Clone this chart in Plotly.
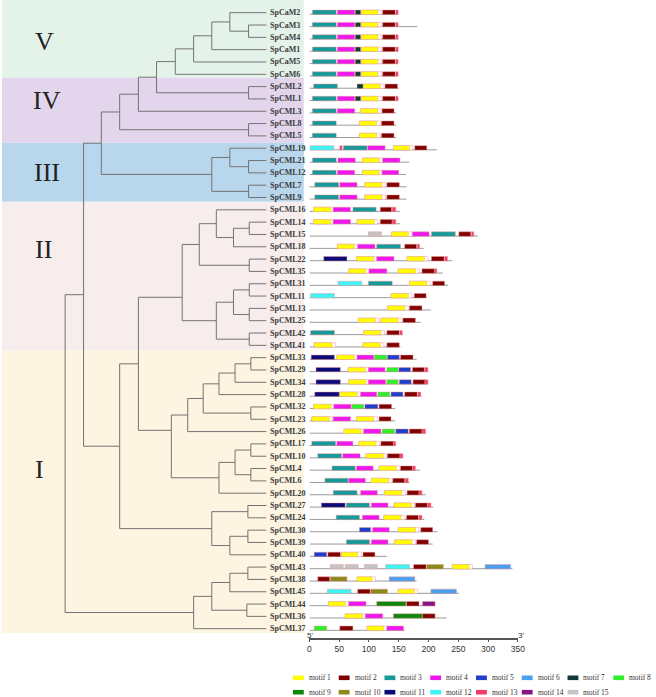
import plotly.graph_objects as go

# ---------------- data ----------------
GENES_V = ["SpCaM2", "SpCaM3", "SpCaM4", "SpCaM1", "SpCaM5", "SpCaM6"]
GENES_IV = ["SpCML2", "SpCML1", "SpCML3", "SpCML8", "SpCML5"]
GENES_III = ["SpCML19", "SpCML21", "SpCML12", "SpCML7", "SpCML9"]
GENES_II = ["SpCML16", "SpCML14", "SpCML15", "SpCML18", "SpCML22", "SpCML35",
            "SpCML31", "SpCML11", "SpCML13", "SpCML25", "SpCML42", "SpCML41"]
GENES_I = ["SpCML33", "SpCML29", "SpCML34", "SpCML28", "SpCML32", "SpCML23", "SpCML26",
           "SpCML17", "SpCML10", "SpCML4", "SpCML6", "SpCML20", "SpCML27", "SpCML24",
           "SpCML30", "SpCML39", "SpCML40", "SpCML43", "SpCML38", "SpCML45", "SpCML44",
           "SpCML36", "SpCML37"]

LEN_V = [149, 181, 149, 149, 149, 149]
LEN_IV = [150, 149, 146, 146, 146]
LEN_III = [214, 168, 162, 163, 163]
LEN_II = [152, 152, 283, 192, 240, 224, 233, 197, 204, 187, 157, 153]
LEN_I = [180, 200, 200, 188, 144, 144, 195, 145, 157, 186, 168, 195, 208, 193,
         215, 207, 130, 341, 180, 251, 211, 230, 160]

# motifs per gene: (motif number, start, end) in aa
CAM = [(3, 5, 45), (4, 47, 76), (7, 77, 86), (1, 87, 115), (2, 123, 144), (13, 145, 149)]
MOTIFS_V = [CAM, CAM, CAM, CAM, CAM, CAM]
MOTIFS_IV = [
    [(3, 7, 47), (7, 80, 90), (1, 90, 119), (2, 127, 148)],
    CAM,
    [(3, 5, 45), (4, 47, 76), (1, 86, 115), (2, 122, 142)],
    [(3, 5, 45), (1, 84, 113), (2, 121, 142)],
    [(3, 5, 45), (1, 84, 113), (2, 121, 142)],
]
MOTIFS_III = [
    [(12, 1, 41), (13, 51, 55), (3, 57, 97), (4, 98, 127), (1, 141, 168), (2, 177, 197)],
    [(3, 5, 45), (4, 48, 77), (1, 89, 117), (4, 123, 152)],
    [(3, 5, 45), (4, 47, 76), (1, 89, 117), (4, 122, 150)],
    [(3, 9, 49), (4, 51, 80), (1, 93, 122), (2, 130, 151)],
    [(3, 9, 49), (4, 51, 80), (1, 93, 122), (2, 130, 151)],
]
MOTIFS_II = [
    [(1, 7, 36), (4, 40, 69), (3, 73, 112), (2, 119, 138), (13, 139, 145)],
    [(1, 7, 36), (4, 40, 69), (1, 80, 109), (2, 119, 139), (13, 139, 145)],
    [(15, 99, 121), (1, 138, 166), (4, 173, 201), (3, 205, 245), (2, 251, 271), (13, 272, 276)],
    [(1, 47, 75), (4, 81, 110), (3, 113, 153), (2, 160, 180), (13, 181, 185)],
    [(11, 24, 63), (1, 79, 108), (4, 113, 142), (1, 164, 193), (2, 205, 226), (13, 227, 232)],
    [(1, 66, 95), (4, 100, 130), (1, 149, 178), (2, 189, 210), (13, 210, 214)],
    [(12, 48, 88), (3, 99, 139), (1, 168, 197), (2, 207, 227)],
    [(12, 2, 42), (1, 137, 166), (2, 176, 196)],
    [(1, 131, 160), (2, 168, 189)],
    [(1, 82, 111), (1, 120, 149), (2, 157, 178)],
    [(3, 2, 42), (1, 91, 120), (2, 130, 151), (13, 152, 156)],
    [(1, 8, 38), (1, 90, 119), (2, 130, 151)],
]
MOTIFS_I = [
    [(11, 3, 42), (1, 46, 75), (4, 80, 108), (8, 109, 130), (5, 131, 151), (2, 153, 174)],
    [(11, 11, 52), (1, 65, 94), (4, 99, 127), (8, 130, 149), (5, 150, 170), (2, 173, 193), (13, 194, 199)],
    [(11, 11, 52), (1, 66, 95), (4, 99, 128), (8, 130, 149), (5, 151, 171), (2, 174, 194), (13, 194, 199)],
    [(11, 9, 50), (1, 51, 80), (4, 86, 113), (8, 115, 135), (5, 137, 157), (2, 160, 181), (13, 182, 187)],
    [(1, 7, 36), (4, 41, 70), (8, 71, 91), (5, 93, 115), (2, 117, 138)],
    [(1, 4, 33), (4, 40, 69), (1, 79, 108), (2, 117, 137)],
    [(1, 58, 87), (4, 91, 120), (8, 122, 143), (5, 145, 166), (2, 168, 189), (13, 189, 195)],
    [(3, 4, 44), (4, 46, 73), (1, 83, 112), (2, 120, 141), (13, 141, 145)],
    [(3, 14, 54), (4, 56, 85), (1, 95, 124), (2, 131, 152), (13, 152, 157)],
    [(3, 38, 77), (4, 79, 107), (1, 117, 146), (2, 153, 173), (13, 173, 178)],
    [(3, 26, 65), (4, 66, 94), (1, 104, 133), (2, 140, 160), (13, 161, 166)],
    [(3, 40, 80), (4, 86, 114), (1, 126, 155), (2, 164, 184), (13, 184, 189)],
    [(11, 20, 60), (3, 62, 101), (4, 104, 132), (1, 142, 171), (2, 178, 198), (13, 198, 204)],
    [(3, 45, 84), (4, 89, 117), (1, 125, 154), (2, 163, 183), (13, 184, 189)],
    [(5, 84, 103), (4, 106, 134), (1, 149, 178), (2, 187, 207)],
    [(3, 62, 101), (4, 104, 132), (1, 143, 172), (2, 180, 200)],
    [(5, 8, 29), (2, 31, 52), (1, 54, 81), (2, 90, 110)],
    [(15, 35, 57), (15, 60, 82), (15, 92, 114), (12, 128, 168), (2, 175, 196), (10, 197, 225),
     (1, 240, 268), (6, 295, 338)],
    [(2, 14, 34), (10, 35, 63), (1, 80, 105), (6, 134, 177)],
    [(12, 30, 70), (2, 81, 102), (10, 103, 131), (1, 149, 176), (6, 204, 247)],
    [(1, 32, 60), (4, 66, 95), (9, 113, 162), (2, 163, 184), (14, 190, 211)],
    [(1, 60, 89), (4, 94, 123), (9, 141, 190), (2, 190, 211)],
    [(8, 8, 29), (2, 51, 73), (1, 97, 125), (4, 130, 158)],
]

# tree: (node, child1, child2, depth)
TREE_NODES = [
    ("nCaM34", "SpCaM3", "SpCaM4", 250), ("nA", "SpCaM2", "nCaM34", 231),
    ("nB", "nA", "SpCaM1", 212.7), ("nC", "nB", "SpCaM5", 194.3),
    ("nD", "nC", "SpCaM6", 175.7), ("nL21", "SpCML2", "SpCML1", 250),
    ("nE", "nD", "nL21", 156.7), ("nF", "nE", "SpCML3", 138.3),
    ("nL85", "SpCML8", "SpCML5", 250), ("nG", "nF", "nL85", 119.3),
    ("nL2112", "SpCML21", "SpCML12", 250), ("nH", "SpCML19", "nL2112", 231),
    ("nL79", "SpCML7", "SpCML9", 250), ("nIII", "nH", "nL79", 212.7),
    ("nI", "nG", "nIII", 100.7),
    ("nL1415", "SpCML14", "SpCML15", 250.7), ("nJ", "nL1415", "SpCML18", 234.7),
    ("nK", "SpCML16", "nJ", 217.3), ("nL2235", "SpCML22", "SpCML35", 250.7),
    ("nLl", "nK", "nL2235", 200), ("nL3111", "SpCML31", "SpCML11", 250.7),
    ("nL1325", "SpCML13", "SpCML25", 250.7), ("nM", "nL3111", "nL1325", 234.7),
    ("nL4241", "SpCML42", "SpCML41", 250.7), ("nN", "nM", "nL4241", 217.3),
    ("nII", "nLl", "nN", 182.7),
    ("nL3329", "SpCML33", "SpCML29", 252.3), ("nO", "nL3329", "SpCML34", 236.3),
    ("nP", "nO", "SpCML28", 220), ("nL3223", "SpCML32", "SpCML23", 252.3),
    ("nQ", "nP", "nL3223", 204), ("nR", "nQ", "SpCML26", 188.3),
    ("nL1710", "SpCML17", "SpCML10", 252.3), ("nL46", "SpCML4", "SpCML6", 252.3),
    ("nS", "nL1710", "nL46", 236.3), ("nT", "nS", "SpCML20", 220),
    ("nU", "nR", "nT", 171.7), ("nV", "nII", "nU", 138.3),
    ("nL2724", "SpCML27", "SpCML24", 249.3), ("nL3039", "SpCML30", "SpCML39", 249.3),
    ("nY", "nL3039", "SpCML40", 231), ("nX", "nL2724", "nY", 212.7),
    ("nW", "nV", "nX", 119.3), ("nTop", "nI", "nW", 82.7),
    ("nL4338", "SpCML43", "SpCML38", 249.3), ("nBB", "nL4338", "SpCML45", 231),
    ("nL4436", "SpCML44", "SpCML36", 248.3), ("nAA", "nBB", "nL4436", 212.7),
    ("nZ", "nAA", "SpCML37", 194.3), ("root", "nTop", "nZ", 64),
]
ATTACH_ROW = {"nII": 23.1, "nU": 33.9}
LEAF_DEPTH = 268

GROUP_NAMES = ["V", "IV", "III", "II", "I"]
GROUP_EDGES = [-1.2, 5.28, 10.55, 15.34, 27.44, 50.35]
GROUP_COLORS = ["#e4f3ea", "#e3d6ec", "#b9d7ec", "#f8eded", "#fdf5e1"]
GROUP_LABEL_X = [42.7, 46, 46, 41.7, 38.3]
GROUP_LABEL_ROW = [2.35, 7.09, 12.96, 19.2, 37.06]

MOTIF_COLORS = {1: "#ffff00", 2: "#800000", 3: "#16999a", 4: "#ee18ee", 5: "#1e3fc8",
                6: "#4aa0ee", 7: "#0f3a38", 8: "#2cf02c", 9: "#0d870d", 10: "#8a8a18",
                11: "#0b0b78", 12: "#3ef4f4", 13: "#f23c6a", 14: "#861686", 15: "#c4c4c4"}
SCALE_TICKS = [0, 50, 100, 150, 200, 250, 300, 350]

# ---------------- assemble ----------------
LEAVES = GENES_V + GENES_IV + GENES_III + GENES_II + GENES_I
LENGTHS = LEN_V + LEN_IV + LEN_III + LEN_II + LEN_I
MOTIFS = MOTIFS_V + MOTIFS_IV + MOTIFS_III + MOTIFS_II + MOTIFS_I
ROW = {g: i for i, g in enumerate(LEAVES)}

W, H = 656, 697
ROW0_PX, ROW_PX = 12.7, 12.32
Y_RANGE = [(H - ROW0_PX) / ROW_PX, -ROW0_PX / ROW_PX]

fig = go.Figure()

# tree
node_map = {n: (a, b, d) for n, a, b, d in TREE_NODES}


def depth(n):
    return node_map[n][2] if n in node_map else LEAF_DEPTH


def ypos(n):
    if n in ROW:
        return ROW[n]
    a, b, _ = node_map[n]
    return (attach(a) + attach(b)) / 2


def attach(n):
    return ATTACH_ROW.get(n, ypos(n))


tx, ty = [], []
for n, a, b, d in TREE_NODES:
    ya, yb = attach(a), attach(b)
    tx += [d, d, None]
    ty += [ya, yb, None]
    for c, yc in ((a, ya), (b, yb)):
        tx += [d, depth(c), None]
        ty += [yc, yc, None]
fig.add_trace(go.Scatter(x=tx, y=ty, mode="lines", line=dict(color="#737373", width=1),
                         hoverinfo="skip", showlegend=False, xaxis="x", yaxis="y"))

# gene lines
LINE_OFF = 0.13
gx, gy = [], []
for g, L in zip(LEAVES, LENGTHS):
    r = ROW[g] + LINE_OFF
    gx += [0, L, None]
    gy += [r, r, None]
fig.add_trace(go.Scatter(x=gx, y=gy, mode="lines", line=dict(color="#9c9c9c", width=1),
                         hoverinfo="skip", showlegend=False, xaxis="x2", yaxis="y"))

BOX_TOP, BOX_BOT = -0.21, 0.15
OUTLINE = "rgba(236,150,150,0.55)"


def rect(x0, x1, r):
    return ([x0, x1, x1, x0, x0, None],
            [r + BOX_TOP, r + BOX_TOP, r + BOX_BOT, r + BOX_BOT, r + BOX_TOP, None])


# white tails after motif 1
wx, wy = [], []
for g, mlist in zip(LEAVES, MOTIFS):
    srt = sorted(mlist, key=lambda t: t[1])
    for i, (m, s, e) in enumerate(srt):
        if m == 1:
            tail = e + 6
            if i + 1 < len(srt):
                tail = min(tail, srt[i + 1][1])
            if tail > e:
                xs, ys = rect(s, tail, ROW[g])
                wx += xs
                wy += ys
fig.add_trace(go.Scatter(x=wx, y=wy, mode="lines", fill="toself", fillcolor="white",
                         line=dict(color=OUTLINE, width=0.8), hoverinfo="skip",
                         showlegend=False, xaxis="x2", yaxis="y"))

for m in range(1, 16):
    mx, my = [], []
    for g, mlist in zip(LEAVES, MOTIFS):
        for (mm, s, e) in mlist:
            if mm == m:
                xs, ys = rect(s, e, ROW[g])
                mx += xs
                my += ys
    if mx:
        fig.add_trace(go.Scatter(x=mx, y=my, mode="lines", fill="toself",
                                 fillcolor=MOTIF_COLORS[m],
                                 line=dict(color=OUTLINE, width=0.8), hoverinfo="skip",
                                 showlegend=False, xaxis="x2", yaxis="y"))

# background bands
shapes = []
for i in range(5):
    shapes.append(dict(type="rect", xref="x", yref="y", x0=0, x1=306,
                       y0=GROUP_EDGES[i], y1=GROUP_EDGES[i + 1],
                       fillcolor=GROUP_COLORS[i], line=dict(width=0), layer="below"))

annotations = []
for i, name in enumerate(GROUP_NAMES):
    annotations.append(dict(x=GROUP_LABEL_X[i], y=GROUP_LABEL_ROW[i], xref="x", yref="y",
                            text=name, showarrow=False, xanchor="center", yanchor="middle",
                            font=dict(family="Liberation Serif", size=26, color="#222222")))
for g in LEAVES:
    annotations.append(dict(x=LEAF_DEPTH + 1.5, y=ROW[g], xref="x", yref="y",
                            text="<b>" + g + "</b>", showarrow=False, xanchor="left",
                            yanchor="middle",
                            font=dict(family="Liberation Serif", size=8, color="#3c3c3c")))

# 5' / 3'
AX_PX = 639
annotations.append(dict(x=0, y=1 - 635.5 / H, xref="x2", yref="paper", text="5'",
                        showarrow=False, xanchor="center", yanchor="middle", xshift=1,
                        font=dict(family="Liberation Sans", size=8, color="#333")))
annotations.append(dict(x=350, y=1 - 635.5 / H, xref="x2", yref="paper", text="3'",
                        showarrow=False, xanchor="center", yanchor="middle", xshift=3,
                        font=dict(family="Liberation Sans", size=8, color="#333")))

# custom legend
for k in range(15):
    m = k + 1
    col, row = k % 8, k // 8
    cy = 1 - (677.8 + 14.4 * row) / H
    x0 = 295 + 46.4 * col
    shapes.append(dict(type="rect", xref="paper", yref="paper",
                       x0=x0 / W, x1=(x0 + 11) / W, y0=cy - 2.3 / H, y1=cy + 2.3 / H,
                       fillcolor=MOTIF_COLORS[m], line=dict(width=0)))
    annotations.append(dict(x=(x0 + 14) / W, y=cy, xref="paper", yref="paper",
                            text="motif " + str(m), showarrow=False, xanchor="left",
                            yanchor="middle",
                            font=dict(family="Liberation Serif", size=7.5, color="#333")))

fig.update_layout(
    width=W, height=H, margin=dict(l=0, r=0, t=0, b=0, pad=0),
    paper_bgcolor="white", plot_bgcolor="rgba(0,0,0,0)",
    xaxis=dict(range=[0, W], domain=[0, 1], visible=False, fixedrange=True),
    yaxis=dict(range=Y_RANGE, domain=[0, 1], visible=False, fixedrange=True),
    xaxis2=dict(range=[0, 350], domain=[311.7 / W, 523 / W], anchor="free",
                position=1 - AX_PX / H, showline=True, linecolor="#555", linewidth=1.5,
                showgrid=False, zeroline=False, ticks="outside", ticklen=2,
                tickcolor="#555", tickvals=SCALE_TICKS,
                tickfont=dict(family="Liberation Sans", size=8.5, color="#333"),
                fixedrange=True),
    shapes=shapes, annotations=annotations, showlegend=False,
)

fig.write_html("out.html", config={"displayModeBar": False},
               post_script="document.body.style.margin='0';"
               "document.body.style.padding='0';"
               "document.documentElement.style.overflow='hidden';")
